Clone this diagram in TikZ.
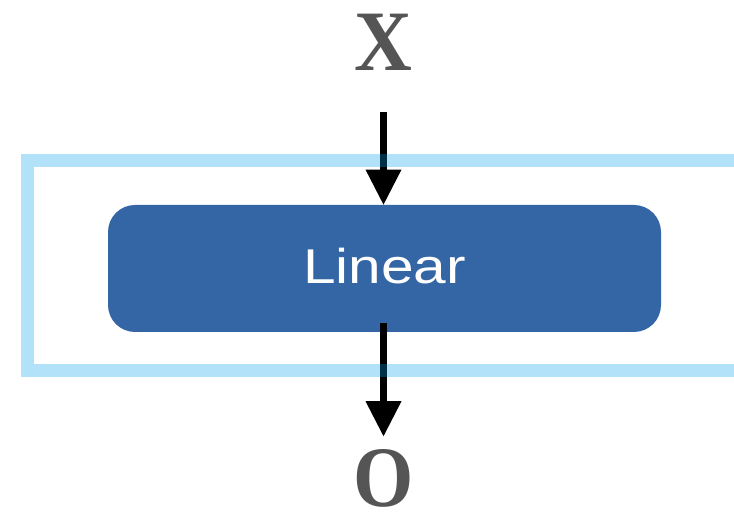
\documentclass[tikz,border=0pt]{standalone}
\usepackage{fontspec}
\usepackage{graphicx}
\usepackage{tikz}
\usetikzlibrary{arrows.meta,positioning}
\newfontfamily\termfont{Liberation Serif}
\newfontfamily\layerfont{Liberation Sans}
\definecolor{framebl}{HTML}{00A0F0}
\definecolor{layerbl}{HTML}{3466A6}
\definecolor{termgray}{HTML}{555555}
\tikzset{
  term/.style={text=termgray, inner sep=0pt, font=\termfont\bfseries\fontsize{49}{49}\selectfont},
  layer/.style={fill=layerbl, rounded corners=0.54cm, minimum width=11.06cm, minimum height=2.54cm,
    inner sep=0pt, text depth=0.12cm, text=white, font=\layerfont\fontsize{27.8}{28}\selectfont},
  flow/.style={draw=black, line width=0.14cm, -{Triangle[width=0.72cm,length=0.7cm,line width=0pt]}},
  blockframe/.style={draw=framebl, draw opacity=0.3, line width=0.26cm},
}
\begin{document}
\begin{tikzpicture}
  \useasboundingbox (0,0) rectangle (14.68,10.26);
  \node[term] (x) at (7.67,9.41) {\scalebox{0.93}[1]{X}};
  \node[layer] (lin) at (7.69,4.89) {\scalebox{1.2}[1]{Linear}};
  \node[term] (o) at (7.67,0.7) {\scalebox{0.9}[1]{O}};
  \draw[flow, shorten <=0.82cm] (x.south) -- (x.south |- lin.north);
  \draw[flow, shorten <=-0.18cm, shorten >=0.25cm] (o |- lin.south) -- (o.north);
  % block frame, runs off the right edge
  \draw[blockframe] (0.55,2.85) rectangle (14.8,7.04);
\end{tikzpicture}
\end{document}
